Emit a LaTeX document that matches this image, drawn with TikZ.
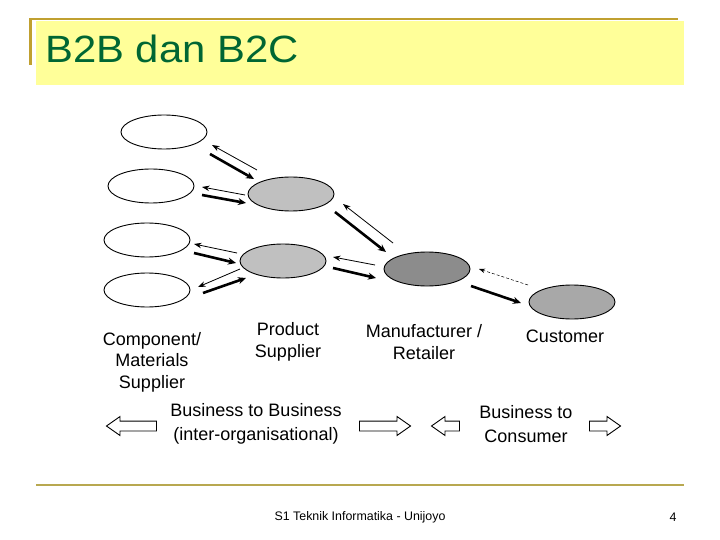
\documentclass[tikz,border=0pt]{standalone}
\usepackage{fontspec}
\setmainfont{Liberation Sans}
\usetikzlibrary{arrows.meta,shapes.geometric,shapes.arrows}
\definecolor{titlegreen}{RGB}{0,102,51}
\definecolor{goldline}{RGB}{192,160,48}
\definecolor{titlefill}{RGB}{255,255,153}
\definecolor{footline}{RGB}{184,168,80}
\definecolor{lightg}{RGB}{192,192,192}
\definecolor{darkg}{RGB}{140,140,140}
\definecolor{custg}{RGB}{168,168,168}
\tikzset{
  ell/.style={ellipse, draw=black, line width=0.9pt, minimum width=86pt, minimum height=34pt, inner sep=0pt},
  back/.style={line width=0.8pt, -{Stealth[length=7.5pt,width=5.5pt]}},
  fwd/.style={line width=2.6pt, -{Stealth[length=8pt,width=7pt]}},
  lbl/.style={font=\fontsize{18}{21.5}\selectfont, align=center, inner sep=0pt},
  hollow/.style={single arrow, draw=black, fill=white, line width=0.9pt, inner sep=4.5pt,
    single arrow head extend=4.5pt, single arrow tip angle=70, minimum width=18pt, anchor=center}
}
\begin{document}
\begin{tikzpicture}[x=1pt,y=-1pt]
\useasboundingbox (0,0) rectangle (720,540);
% title area
\fill[titlefill] (36,21) rectangle (684,85);
\draw[goldline, line width=2.5pt] (29,19) -- (678,19);
\draw[goldline, line width=2.5pt] (30.5,19) -- (30.5,65);
\node[anchor=base west, inner sep=0pt, text=titlegreen, font=\fontsize{38}{44}\selectfont] (title) at (45,63) {\scalebox{1.1}[1]{B2B dan B2C}};
% footer
\draw[footline, line width=2.5pt] (36,485) -- (684,485);
\node[inner sep=0pt, font=\fontsize{12.4}{14}\selectfont] (foot) at (360,517) {S1 Teknik Informatika - Unijoyo};
\node[inner sep=0pt, font=\fontsize{12.4}{14}\selectfont] (page) at (673,517) {4};
% ellipses
\node[ell, fill=white] (w1) at (164,132) {};
\node[ell, fill=white] (w2) at (151,186) {};
\node[ell, fill=white] (w3) at (147,240) {};
\node[ell, fill=white] (w4) at (147,290) {};
\node[ell, fill=lightg] (g1) at (291,194) {};
\node[ell, fill=lightg] (g2) at (283,261) {};
\node[ell, fill=darkg] (m) at (427,269) {};
\node[ell, fill=custg] (c) at (572,302) {};
% arrow end points
\coordinate (a1s) at (257,170); \coordinate (a1e) at (212,145);
\coordinate (b1s) at (210,154); \coordinate (b1e) at (254,179);
\coordinate (a2s) at (245,195); \coordinate (a2e) at (202,187);
\coordinate (b2s) at (202,195); \coordinate (b2e) at (246,203);
\coordinate (a3s) at (237,253); \coordinate (a3e) at (194,244);
\coordinate (b3s) at (194,253); \coordinate (b3e) at (236,263);
\coordinate (a4s) at (240,269); \coordinate (a4e) at (198,287);
\coordinate (b4s) at (203,293); \coordinate (b4e) at (246,278);
\coordinate (a5s) at (393,243); \coordinate (a5e) at (343,204);
\coordinate (b5s) at (335,212); \coordinate (b5e) at (386,252);
\coordinate (a6s) at (375,265); \coordinate (a6e) at (333,257);
\coordinate (b6s) at (333,268); \coordinate (b6e) at (376,278);
\coordinate (a7s) at (528,285); \coordinate (a7e) at (479,269);
\coordinate (b7s) at (471,286); \coordinate (b7e) at (521,303);
\draw[back] (a1s) -- (a1e);
\draw[fwd] (b1s) -- (b1e);
\draw[back] (a2s) -- (a2e);
\draw[fwd] (b2s) -- (b2e);
\draw[back] (a3s) -- (a3e);
\draw[fwd] (b3s) -- (b3e);
\draw[back] (a4s) -- (a4e);
\draw[fwd] (b4s) -- (b4e);
\draw[back] (a5s) -- (a5e);
\draw[fwd] (b5s) -- (b5e);
\draw[back] (a6s) -- (a6e);
\draw[fwd] (b6s) -- (b6e);
\draw[line width=0.5pt, densely dashed, -{Stealth[length=6pt,width=4.5pt]}] (a7s) -- (a7e);
\draw[fwd] (b7s) -- (b7e);
% labels
\node[lbl] (lcomp) at (152,362) {Component/\\Materials\\Supplier};
\node[lbl] (lprod) at (288,342) {Product\\Supplier};
\node[lbl] (lman) at (424,342) {Manufacturer /\\Retailer};
\node[lbl] (lcust) at (565,336) {Customer};
\node[lbl, font=\fontsize{18}{24}\selectfont] (lb2b) at (256,424) {Business to Business\\(inter-organisational)};
\node[lbl, font=\fontsize{18}{24}\selectfont] (lb2c) at (526,424) {Business to\\Consumer};
% hollow arrows
\node[hollow, minimum height=50pt, shape border rotate=180] (h1) at (135,426) {};
\node[hollow, minimum height=51pt] (h2) at (381.5,426) {};
\node[hollow, minimum height=28pt, shape border rotate=180] (h3) at (449,426) {};
\node[hollow, minimum height=31pt] (h4) at (601.5,426) {};
\end{tikzpicture}
\end{document}
